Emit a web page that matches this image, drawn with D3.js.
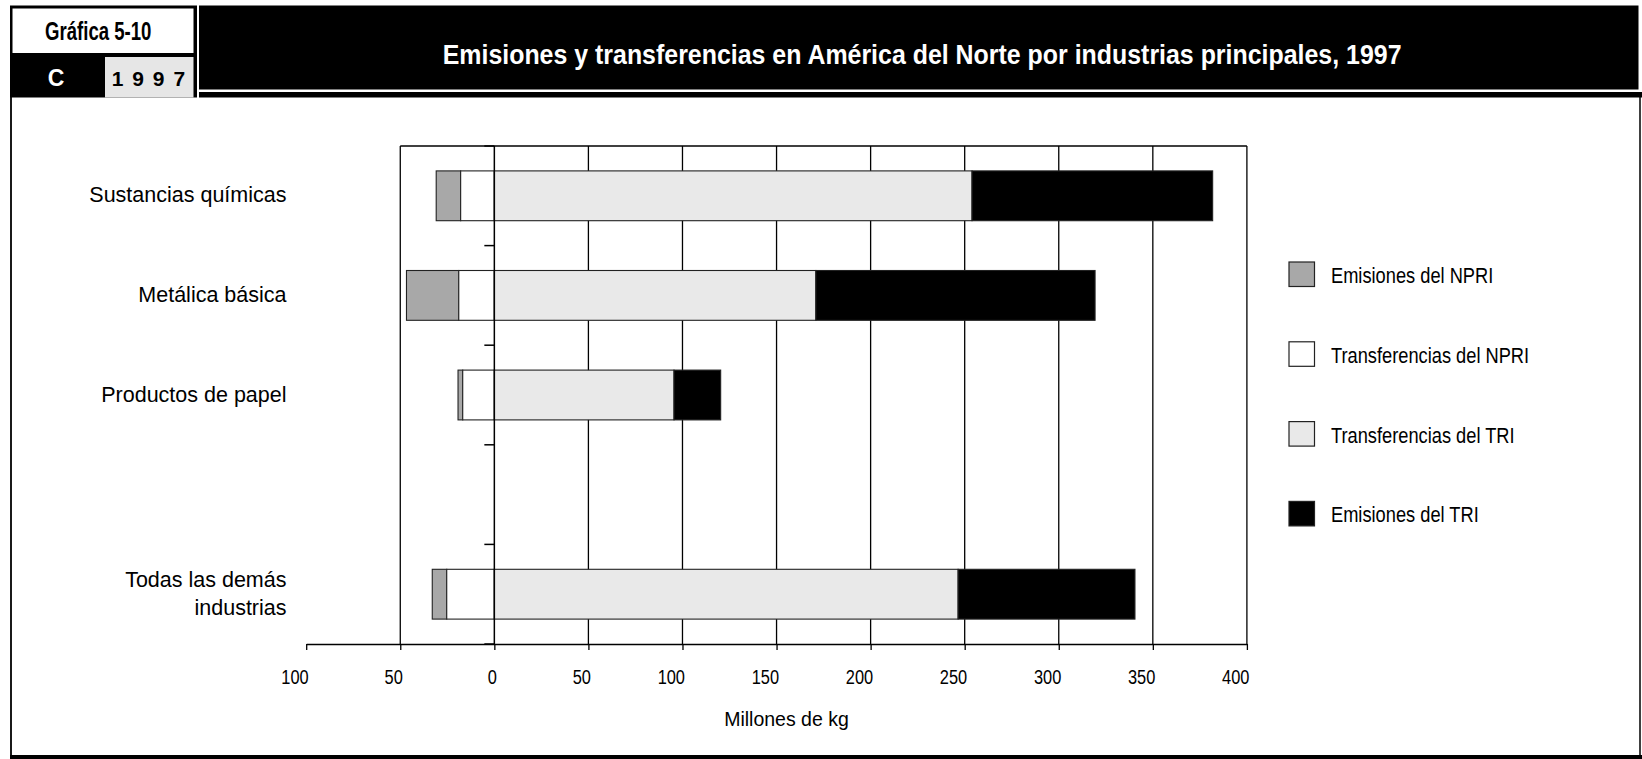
<!DOCTYPE html>
<html>
<head>
<meta charset="utf-8">
<script src="https://cdn.jsdelivr.net/npm/d3@7"></script>
<style>
  html, body { margin: 0; padding: 0; background: #fff; }
  svg { display: block; }
</style>
</head>
<body>
<svg id="chart" width="1642" height="759"></svg>
<script>
// ---------------- Data ----------------
const categories = ["Sustancias químicas", "Metálica básica", "Productos de papel", "Todas las demás industrias"];
const categoryLines = [["Sustancias químicas"], ["Metálica básica"], ["Productos de papel"], ["Todas las demás", "industrias"]];
const rowSlots = [0, 1, 2, 4];           // row 3 is left blank in the original
const rowCount = 5;

const emisionesNPRI       = [13, 27.8, 2.5, 7.7];
const transferenciasNPRI  = [17.9, 18.9, 16.8, 25.3];
const transferenciasTRI   = [253.9, 170.9, 95.5, 246.5];
const emisionesTRI        = [127.9, 148.4, 24.8, 94];

const seriesNames = ["Emisiones del NPRI", "Transferencias del NPRI", "Transferencias del TRI", "Emisiones del TRI"];
const seriesColors = ["#a8a8a8", "#ffffff", "#e9e9e9", "#000000"];

const xTicks = [-100, -50, 0, 50, 100, 150, 200, 250, 300, 350, 400];
const gridValues = [50, 100, 150, 200, 250, 300, 350];
const xDomain = [-100, 400];
const xLabel = "Millones de kg";

const figureLabel = "Gráfica 5-10";
const sectionLetter = "C";
const yearLabel = "1 9 9 7";
const title = "Emisiones y transferencias en América del Norte por industrias principales, 1997";

// ---------------- Setup ----------------
const svg = d3.select("#chart");
const REG = "'Liberation Sans', Arial, sans-serif";

// place text condensed horizontally so that it spans a given width
function fitText(sel, anchorX, baseY, width, anchor) {
  const len = sel.node().getComputedTextLength();
  const s = width / len;
  let x0 = anchorX;
  if (anchor === "middle") x0 = anchorX - width / 2;
  else if (anchor === "end") x0 = anchorX - width;
  sel.attr("text-anchor", "start").attr("x", 0).attr("y", 0)
     .attr("transform", `translate(${x0},${baseY}) scale(${s},1)`);
}

// Header
svg.append("rect").attr("x", 10).attr("y", 5.5).attr("width", 187).attr("height", 92).attr("fill", "#000");
svg.append("rect").attr("x", 12.5).attr("y", 8.5).attr("width", 181).attr("height", 44.5).attr("fill", "#fff");
svg.append("rect").attr("x", 105).attr("y", 57).attr("width", 88.5).attr("height", 40.5).attr("fill", "#e6e6e6");
const fig = svg.append("text").attr("font-family", REG).attr("font-weight", "bold")
  .attr("font-size", 25).attr("fill", "#000").text(figureLabel);
fitText(fig, 98.3, 39.5, 106.5, "middle");
svg.append("text").attr("x", 56).attr("y", 86).attr("text-anchor", "middle")
  .attr("font-family", REG).attr("font-weight", "bold").attr("font-size", 23).attr("fill", "#fff").text(sectionLetter);
const yr = svg.append("text").attr("font-family", REG).attr("font-weight", "bold").attr("font-size", 20.5)
  .attr("letter-spacing", 1.5).attr("fill", "#000").text(yearLabel);
fitText(yr, 111.7, 85.5, 75, "start");

svg.append("rect").attr("x", 199).attr("y", 5.5).attr("width", 1439.5).attr("height", 84).attr("fill", "#000");
svg.append("rect").attr("x", 199).attr("y", 92).attr("width", 1443).attr("height", 5.5).attr("fill", "#000");
const tt = svg.append("text").attr("font-family", REG).attr("font-weight", "bold")
  .attr("font-size", 28.5).attr("fill", "#fff").text(title);
fitText(tt, 442.7, 64.3, 959, "start");

// Frame
svg.append("line").attr("x1", 11).attr("x2", 11).attr("y1", 97).attr("y2", 757).attr("stroke", "#000").attr("stroke-width", 1.8);
svg.append("line").attr("x1", 1640).attr("x2", 1640).attr("y1", 97).attr("y2", 757).attr("stroke", "#000").attr("stroke-width", 1.5);
svg.append("rect").attr("x", 10).attr("y", 755).attr("width", 1632).attr("height", 4).attr("fill", "#000");

// Scales
const x = d3.scaleLinear().domain(xDomain).range([306.2, 1246.9]);
const plotTop = 146, plotBottom = 644;
const y = d3.scaleBand().domain(d3.range(rowCount)).range([plotTop, plotBottom]).paddingInner(0.5).paddingOuter(0.25);

const g = svg.append("g");

// Grid lines
g.selectAll("line.grid").data(gridValues).join("line")
  .attr("x1", d => x(d)).attr("x2", d => x(d))
  .attr("y1", plotTop).attr("y2", plotBottom)
  .attr("stroke", "#000").attr("stroke-width", 1.3);

// Plot frame (top, left at -50, right at 400)
g.append("line").attr("x1", x(-50)).attr("x2", x(400)).attr("y1", plotTop).attr("y2", plotTop).attr("stroke", "#000").attr("stroke-width", 1.3);
g.append("line").attr("x1", x(-50)).attr("x2", x(-50)).attr("y1", plotTop).attr("y2", plotBottom).attr("stroke", "#000").attr("stroke-width", 1.3);
g.append("line").attr("x1", x(400)).attr("x2", x(400)).attr("y1", plotTop).attr("y2", plotBottom).attr("stroke", "#000").attr("stroke-width", 1.3);

// Segments
const segments = [];
categories.forEach((c, i) => {
  const slot = rowSlots[i];
  segments.push({ slot, s: 0, x0: -(transferenciasNPRI[i] + emisionesNPRI[i]), x1: -transferenciasNPRI[i] });
  segments.push({ slot, s: 1, x0: -transferenciasNPRI[i], x1: 0 });
  segments.push({ slot, s: 2, x0: 0, x1: transferenciasTRI[i] });
  segments.push({ slot, s: 3, x0: transferenciasTRI[i], x1: transferenciasTRI[i] + emisionesTRI[i] });
});
g.selectAll("rect.seg").data(segments).join("rect")
  .attr("x", d => x(d.x0)).attr("width", d => x(d.x1) - x(d.x0))
  .attr("y", d => y(d.slot)).attr("height", y.bandwidth())
  .attr("fill", d => seriesColors[d.s]).attr("stroke", "#222").attr("stroke-width", 1.1);

// Y axis (at zero) with ticks at row boundaries
g.append("line").attr("x1", x(0)).attr("x2", x(0)).attr("y1", plotTop).attr("y2", plotBottom).attr("stroke", "#000").attr("stroke-width", 1.5);
const boundaries = d3.range(rowCount + 1).map(i => y.range()[0] + i * y.step());
g.selectAll("line.ytick").data(boundaries).join("line")
  .attr("x1", x(0) - 10).attr("x2", x(0)).attr("y1", d => d).attr("y2", d => d)
  .attr("stroke", "#000").attr("stroke-width", 1.5);

// X axis
const tickScale = 0.8;
const xAxis = d3.axisBottom(x).tickValues(xTicks).tickSize(6).tickSizeOuter(0).tickFormat(d => Math.abs(d));
const ax = svg.append("g").attr("transform", `translate(0,${plotBottom})`).call(xAxis);
ax.select(".domain").attr("stroke", "#000").attr("stroke-width", 1.5);
ax.selectAll(".tick line").attr("stroke", "#000").attr("stroke-width", 1.3);
ax.selectAll(".tick text").attr("font-family", REG).attr("font-size", 20.5).attr("fill", "#000")
  .attr("text-anchor", "end").attr("x", 2 / tickScale).attr("y", 40).attr("dy", null)
  .attr("transform", `scale(${tickScale},1)`);

svg.append("text").attr("x", 786.5).attr("y", 726).attr("text-anchor", "middle")
  .attr("font-family", REG).attr("font-size", 19.5).attr("fill", "#000").text(xLabel);

// Category labels
categoryLines.forEach((lines, i) => {
  const cy = y(rowSlots[i]) + y.bandwidth() / 2;
  const lh = 28.4;
  const t = svg.append("text").attr("text-anchor", "end")
    .attr("font-family", REG).attr("font-size", 21.5).attr("fill", "#000");
  lines.forEach((ln, k) => {
    t.append("tspan").attr("x", 286.5)
      .attr("y", cy + 6.5 + (k - (lines.length - 1) / 2) * lh).text(ln);
  });
});

// Legend
const legendTop = 262;
const legendStep = 79.8;
const legendScale = 0.83;
const lg = svg.append("g");
seriesNames.forEach((name, i) => {
  const yy = legendTop + i * legendStep;
  lg.append("rect").attr("x", 1289).attr("y", yy).attr("width", 25.5).attr("height", 24.5)
    .attr("fill", seriesColors[i]).attr("stroke", "#222").attr("stroke-width", 1.2);
  lg.append("text").attr("x", 0).attr("y", 0)
    .attr("transform", `translate(1331,${yy + 21}) scale(${legendScale},1)`)
    .attr("font-family", REG).attr("font-size", 22).attr("fill", "#000").text(name);
});
</script>
</body>
</html>
